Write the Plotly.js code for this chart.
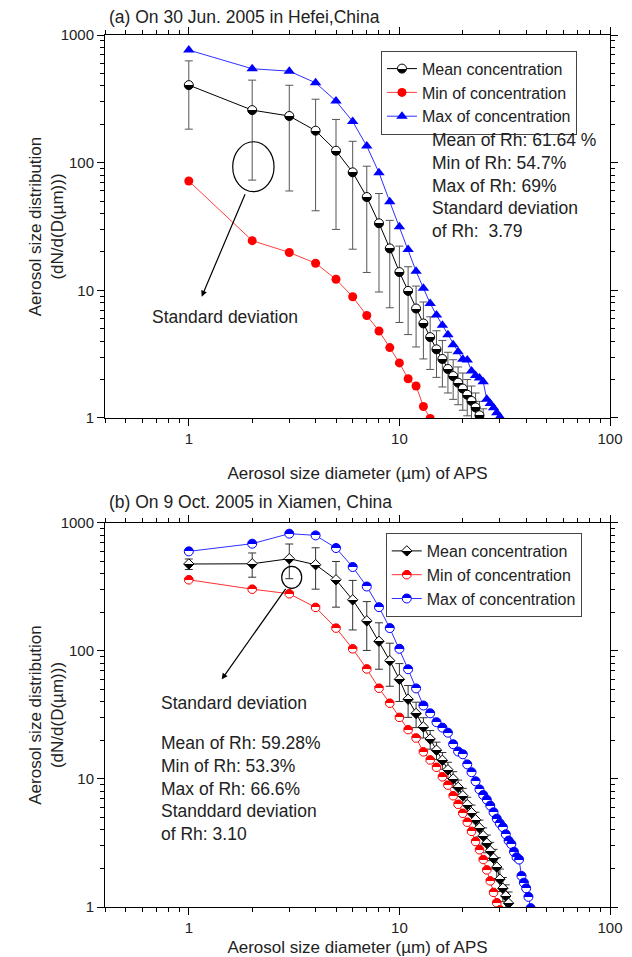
<!DOCTYPE html>
<html>
<head>
<meta charset="utf-8">
<script src="https://cdn.plot.ly/plotly-3.0.1.min.js"></script>
<style>
html,body{margin:0;padding:0;background:#fff;}
#chart{width:632px;height:957px;}
</style>
</head>
<body>
<div id="chart"></div>
<script>
// ---------- (a) Hefei, 30 Jun. 2005 ----------
const xTopMean = [1,2,3,4,5,6,7,8,9,10,11,12,13,14,15,16,17,18,19,20,21,22,23,24,25];
const yTopMean = [405,258,232,178,124,84,53.8,33.5,21.3,13.9,9.9,7.2,5.5,4.3,3.45,2.9,2.42,2.13,1.89,1.7,1.52,1.36,1.21,1.05,0.92];
const sdTopMean = [222,185,172,136,94,63,40,23.8,14,8.3,5.4,3.6,2.6,1.9,1.37,1.15,0.85,0.73,0.62,0.55,0.48,0.42,0.36,0.3,0.26];

const xTopMin = [1,2,3,4,5,6,7,8,9,10,11,12,13,14,15];
const yTopMin = [71.8,24.5,19.8,16.3,12.2,8.9,6.35,4.8,3.56,2.7,2.03,1.78,1.23,0.99,0.88];

const xTopMax = [1,2,3,4,5,6,7,8,9,10,11,12,13,14,15,16,17,18,19,20,21,22,23,24,25,26,27,28,29,30];
const yTopMax = [762,544,521,422,304,210,135,83.4,49.4,31.5,20.9,14.1,10.4,7.9,6.4,5.33,4.48,3.75,3.3,2.88,2.85,2.33,2.15,2.06,1.92,1.4,1.3,1.2,1.1,1.02];

// ---------- (b) Xiamen, 9 Oct. 2005 ----------
const xBotMean = [1,2,3,4,5,6,7,8,9,10,11,12,13,14,15,16,17,18,19,20,21,22,23,24,25,26,27,28,29,30,31,32,33];
const yBotMean = [478,480,526,472,360,251,172,119,84,60,42,32.5,25.5,20.5,16.8,14,11.8,10,8.6,7.4,6.3,5.45,4.8,4.15,3.6,3.15,2.75,2.4,2.05,1.65,1.4,1.22,1.07];
const sdBotMean = [45,103,159,168,140,105,71,47,31,19.7,11.7,7.3,4.6,3.4,2.6,2.1,1.7,1.4,1.2,1.05,0.9,0.8,0.7,0.62,0.55,0.5,0.45,0.42,0.38,0.33,0.3,0.27,0.24];

const xBotMin = [1,2,3,4,5,6,7,8,9,10,11,12,13,14,15,16,17,18,19,20,21,22,23,24,25,26,27,28,29,30];
const yBotMin = [360,304,280,219,151,104,72.4,51.2,39.1,30.3,24.3,20.9,16.3,14.1,12.35,10.4,8.96,7.4,6.35,5.4,4.6,3.9,3.25,2.8,2.35,1.95,1.6,1.3,1.08,0.95];

const xBotMax = [1,2,3,4,5,6,7,8,9,10,11,12,13,14,15,16,17,18,19,20,21,22,23,24,25,26,27,28,29,30,31,32,33,34,35,36,37,38,39,40,41,42];
const yBotMax = [600,689,825,800,637,453,319,220,151,104,72,51,37.5,32.6,27.8,25.2,23.0,18.7,16.4,15.6,13.0,11.3,9.6,8.3,7.5,6.9,6.2,5.5,4.9,4.5,4.2,3.7,3.3,3.1,2.7,2.45,2.35,1.75,1.55,1.4,1.2,0.98];

// ---------- text ----------
const seriesNames = ['Mean concentration','Min of concentration','Max of concentration'];
const titleA = '(a) On 30 Jun. 2005 in Hefei,China';
const titleB = '(b) On 9 Oct. 2005 in Xiamen, China';
const xTitle = 'Aerosol size diameter (µm) of APS';
const yTitle = 'Aerosol size distribution<br>(dN/d(D(µm)))';
const rhA = 'Mean of Rh: 61.64 %<br>Min of Rh: 54.7%<br>Max of Rh: 69%<br>Standard deviation<br>of Rh:  3.79';
const rhB = 'Mean of Rh: 59.28%<br>Min of Rh: 53.3%<br>Max of Rh: 66.6%<br>Standdard deviation<br>of Rh: 3.10';
const sdLabel = 'Standard deviation';

const F = 'Arial, "Liberation Sans", Helvetica, sans-serif';
const TXT = '#222';

function xAxis(anchor){
  return {
    type:'log', range:[Math.log10(0.4), 2], anchor:anchor, domain:[0,1],
    showline:true, linecolor:'#000', linewidth:1, mirror:'allticks',
    ticks:'outside', ticklen:7, tickwidth:1, tickcolor:'#000',
    dtick:1, exponentformat:'none',
    tickfont:{family:F, size:15, color:TXT},
    minor:{ticks:'outside', ticklen:4, tickwidth:1, tickcolor:'#000', dtick:'D1', showgrid:false},
    showgrid:false, zeroline:false,
    title:{text:xTitle, font:{family:F, size:17, color:TXT}}
  };
}
function yAxis(anchor, domain){
  return {
    type:'log', range:[0, 3], anchor:anchor, domain:domain,
    showline:true, linecolor:'#000', linewidth:1, mirror:'allticks',
    ticks:'outside', ticklen:7, tickwidth:1, tickcolor:'#000',
    dtick:1, exponentformat:'none',
    tickfont:{family:F, size:15, color:TXT},
    minor:{ticks:'outside', ticklen:4, tickwidth:1, tickcolor:'#000', dtick:'D1', showgrid:false},
    showgrid:false, zeroline:false,
    title:{text:yTitle, font:{family:F, size:17, color:TXT}}
  };
}

const traces = [
  {x:xTopMean, y:yTopMean, name:seriesNames[0], mode:'lines+markers', xaxis:'x', yaxis:'y', legend:'legend',
   error_y:{type:'data', array:sdTopMean, visible:true, color:'#555', thickness:1, width:4},
   line:{color:'#000', width:1},
   marker:{symbol:'circle', size:9, color:'#fff', line:{color:'#000', width:1}, gradient:{type:'vertical', color:'#000'}}},
  {x:xTopMin, y:yTopMin, name:seriesNames[1], mode:'lines+markers', xaxis:'x', yaxis:'y', legend:'legend',
   line:{color:'#ff4040', width:1},
   marker:{symbol:'circle', size:9, color:'#ff0000', line:{color:'#ff0000', width:0}}},
  {x:xTopMax, y:yTopMax, name:seriesNames[2], mode:'lines+markers', xaxis:'x', yaxis:'y', legend:'legend',
   line:{color:'#3030ff', width:1},
   marker:{symbol:'triangle-up', size:10, color:'#0000ff', line:{color:'#0000ff', width:0}}},

  {x:xBotMean, y:yBotMean, name:seriesNames[0], mode:'lines+markers', xaxis:'x2', yaxis:'y2', legend:'legend2',
   error_y:{type:'data', array:sdBotMean, visible:true, color:'#333', thickness:1, width:4},
   line:{color:'#000', width:1},
   marker:{symbol:'diamond', size:8, color:'#fff', line:{color:'#000', width:1}, gradient:{type:'vertical', color:'#000'}}},
  {x:xBotMin, y:yBotMin, name:seriesNames[1], mode:'lines+markers', xaxis:'x2', yaxis:'y2', legend:'legend2',
   line:{color:'#ff3030', width:1},
   marker:{symbol:'octagon', size:9, color:'#ff0000', line:{color:'#ff0000', width:1}, gradient:{type:'vertical', color:'#fff'}}},
  {x:xBotMax, y:yBotMax, name:seriesNames[2], mode:'lines+markers', xaxis:'x2', yaxis:'y2', legend:'legend2',
   line:{color:'#3030ff', width:1},
   marker:{symbol:'circle', size:9, color:'#0000ff', line:{color:'#0000ff', width:1}, gradient:{type:'vertical', color:'#fff'}}}
];

const legendBase = {xanchor:'left', yanchor:'top', bgcolor:'#fff', bordercolor:'#444', borderwidth:1,
  font:{family:F, size:16, color:TXT}, tracegroupgap:0, xref:'paper', yref:'paper'};

const annFont = {family:F, size:17.5, color:TXT};
const layout = {
  width:632, height:957,
  margin:{l:105, r:22, t:35, b:50},
  paper_bgcolor:'#fff', plot_bgcolor:'#fff',
  showlegend:true,
  xaxis:xAxis('y'),
  yaxis:yAxis('x', [0.5608, 1]),
  xaxis2:xAxis('y2'),
  yaxis2:yAxis('x2', [0, 0.4404]),
  legend:Object.assign({x:0.5465, y:0.982}, legendBase),
  legend2:Object.assign({x:0.556, y:0.4289}, legendBase),
  annotations:[
    {text:titleA, xref:'paper', yref:'paper', x:0.004, y:1.0206, xanchor:'left', yanchor:'middle', showarrow:false, font:annFont},
    {text:titleB, xref:'paper', yref:'paper', x:0.004, y:0.4648, xanchor:'left', yanchor:'middle', showarrow:false, font:annFont},
    {text:rhA, xref:'paper', yref:'paper', x:0.6436, y:0.8933, xanchor:'left', yanchor:'top', align:'left', showarrow:false, font:annFont},
    {text:sdLabel, xref:'paper', yref:'paper', x:0.0891, y:0.677, xanchor:'left', yanchor:'middle', showarrow:false, font:annFont},
    {text:'', xref:'paper', yref:'paper', x:0.1915, y:0.6999, ax:44, ay:-104, showarrow:true, arrowhead:2, arrowsize:1, arrowwidth:1.2, arrowcolor:'#000'},
    {text:sdLabel, xref:'paper', yref:'paper', x:0.107, y:0.2336, xanchor:'left', yanchor:'middle', showarrow:false, font:annFont},
    {text:rhB, xref:'paper', yref:'paper', x:0.107, y:0.2022, xanchor:'left', yanchor:'top', align:'left', showarrow:false, font:annFont},
    {text:'', xref:'paper', yref:'paper', x:0.2311, y:0.2611, ax:65, ay:-92, showarrow:true, arrowhead:2, arrowsize:1, arrowwidth:1.2, arrowcolor:'#000'}
  ],
  shapes:[
    {type:'circle', xref:'paper', yref:'paper', x0:0.2529, x1:0.3347, y0:0.8203, y1:0.8776, line:{color:'#000', width:1.2}},
    {type:'circle', xref:'paper', yref:'paper', x0:0.3499, x1:0.3895, y0:0.3655, y1:0.3907, line:{color:'#000', width:1.2}}
  ]
};

function hardGradients(){
  document.querySelectorAll('#chart linearGradient').forEach(function(g){
    g.querySelectorAll('stop').forEach(function(s){ s.setAttribute('offset','50%'); });
  });
}

Plotly.newPlot('chart', traces, layout, {staticPlot:true, displayModeBar:false}).then(hardGradients);
</script>
</body>
</html>
